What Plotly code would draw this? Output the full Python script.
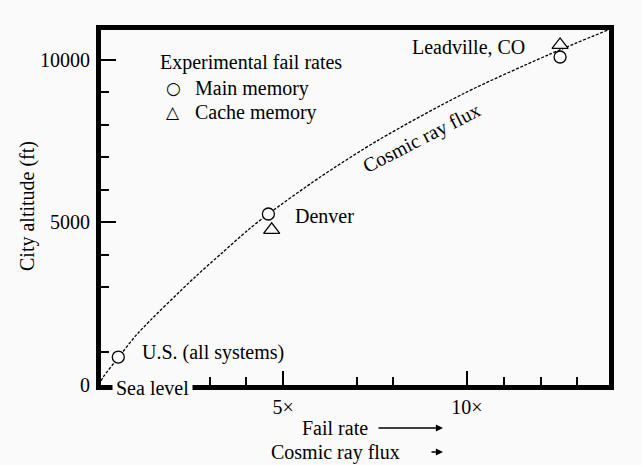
import plotly.graph_objects as go

# ---- data -------------------------------------------------------------
# cosmic-ray flux curve: relative fail rate vs. city altitude (ft)
flux_rate = [0.0, 0.11, 0.52, 1.06, 2.61, 3.34, 4.05, 4.60, 6.0, 7.6, 9.9, 12.2, 13.83]
flux_alt = [0, 246, 840, 1600, 3323, 4062, 4770, 5260, 6390, 7540, 8960, 10150, 10920]

# experimental fail rates
main_rate = [0.52, 4.60, 12.53]
main_alt = [860, 5260, 10090]
cache_rate = [4.69, 12.53]
cache_alt = [4770, 10460]

city_names = ["U.S. (all systems)", "Denver", "Leadville, CO"]

x_major = [5, 10]
x_major_text = ["5×", "10×"]
x_minor = [3, 4, 7, 8, 11, 12, 13]
y_major = [0, 5000, 10000]
y_major_text = ["0", "5000", "10000"]
y_minor = [1000, 3000, 4000, 6000, 7000, 8000, 9000]

# ---- style ------------------------------------------------------------
W_FIG, H_FIG = 642, 465
M_L, M_R, M_T, M_B = 101, 33, 30, 80
PW = W_FIG - M_L - M_R
PH = H_FIG - M_T - M_B
BG = "#fafafa"
FONT = dict(family="Liberation Serif", size=20, color="black")
X_RANGE = [0.05, 13.86]
Y_RANGE = [0, 10920]


def paper(px, py):
    """pixel position on the page -> paper coordinates"""
    return (px - M_L) / PW, (H_FIG - M_B - py) / PH


fig = go.Figure()

fig.add_trace(go.Scatter(
    x=flux_rate, y=flux_alt, mode="lines",
    line=dict(color="black", width=1.3, dash="3px,1.6px", shape="spline", smoothing=0.8),
    hoverinfo="skip", showlegend=False, cliponaxis=False,
))
fig.add_trace(go.Scatter(
    x=main_rate, y=main_alt, mode="markers",
    marker=dict(symbol="circle", size=12, color=BG, line=dict(color="black", width=1.3)),
    showlegend=False,
))
fig.add_trace(go.Scatter(
    x=cache_rate, y=cache_alt, mode="markers",
    marker=dict(symbol="triangle-up", size=14, color=BG, line=dict(color="black", width=1.3)),
    showlegend=False,
))

# heavy frame drawn by the axis lines (mirrored), ticks pointing inward
axis_common = dict(
    showgrid=False, zeroline=False,
    showline=True, linewidth=5, linecolor="black", mirror=True,
    ticks="inside", tickmode="array", tickcolor="black", tickwidth=2.2, tickfont=FONT,
    layer="above traces",
)
minor_common = dict(tickmode="array", ticks="inside", ticklen=8, tickwidth=2,
                    tickcolor="black", showgrid=False)
fig.update_layout(
    width=W_FIG, height=H_FIG,
    margin=dict(l=M_L, r=M_R, t=M_T, b=M_B, pad=0),
    paper_bgcolor=BG, plot_bgcolor=BG,
    font=FONT,
    xaxis=dict(
        **axis_common, range=X_RANGE,
        tickvals=x_major, ticktext=x_major_text, ticklen=14, ticklabelstandoff=0,
        minor=dict(**minor_common, tickvals=x_minor),
    ),
    yaxis=dict(
        **axis_common, range=Y_RANGE,
        tickvals=y_major, ticktext=y_major_text, ticklen=15, ticklabelstandoff=2,
        minor=dict(**minor_common, tickvals=y_minor),
    ),
)


def label(text, px, py, xanchor="center", **kw):
    x, y = paper(px, py)
    fig.add_annotation(text=text, x=x, y=y, xref="paper", yref="paper",
                       xanchor=xanchor, yanchor="middle", showarrow=False,
                       font=kw.pop("font", FONT), **kw)


# city labels next to the main-memory points
city_offsets = [(22, 5, "left"), (25, -2, "left"), (-33, 10, "right")]
for name, xr, alt, (dx, dy, anc) in zip(city_names, main_rate, main_alt, city_offsets):
    fig.add_annotation(text=name, x=xr, y=alt, xref="x", yref="y", showarrow=False,
                       xanchor=anc, yanchor="middle", xshift=dx, yshift=dy, font=FONT)

# legend block
label("Experimental fail rates", 158, 63, xanchor="left")
sym_font = dict(family="DejaVu Sans", size=17, color="black")
label("○", 173, 88, font=sym_font)
label("Main memory", 193, 88, xanchor="left")
label("△", 173, 112, font=sym_font)
label("Cache memory", 193, 112, xanchor="left")

# curve label
label("Cosmic ray flux", 421, 138, textangle=-27)

# sea-level marker breaking the bottom axis
label("Sea level", 152, 388, bgcolor=BG, borderpad=3)

# y-axis title
label("City altitude (ft)", 27, 206, textangle=-90)

# x-axis captions with arrows
label("Fail rate", 335, 428)
label("Cosmic ray flux", 335, 452)
for px, py, length in [(443, 428, 66), (443, 452, 13)]:
    x, y = paper(px, py)
    fig.add_annotation(x=x, y=y, xref="paper", yref="paper", text="", showarrow=True,
                       ax=-length, ay=0, axref="pixel", ayref="pixel",
                       arrowhead=2, arrowsize=1.1, arrowwidth=1.3, arrowcolor="black")

fig.write_html("out.html")
